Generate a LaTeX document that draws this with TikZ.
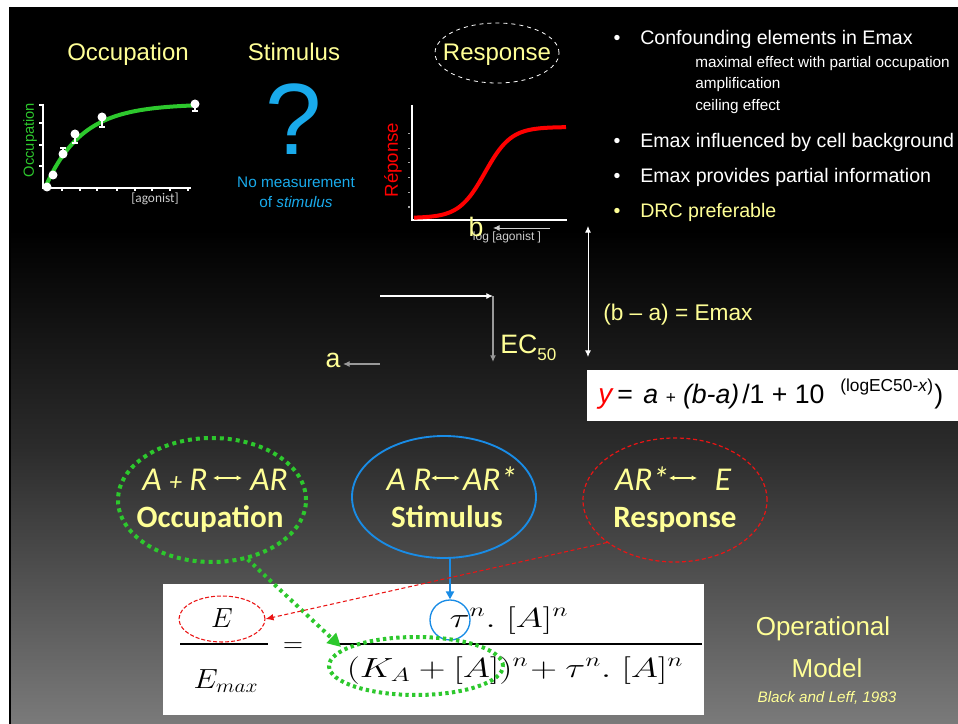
\documentclass[tikz,border=0pt]{standalone}
\usepackage{fontspec}
\setmainfont{Liberation Sans}
\newfontfamily\carlito{Carlito}
\usepackage{graphicx}
\usetikzlibrary{shapes.geometric,arrows.meta}
\definecolor{ylw}{RGB}{255,255,150}
\definecolor{grn}{RGB}{45,200,45}
\definecolor{blu}{RGB}{25,140,230}
\definecolor{cyn}{RGB}{25,170,235}
\definecolor{rd}{RGB}{235,20,20}
\definecolor{bgmid}{RGB}{44,44,44}
\definecolor{bgbot}{RGB}{122,122,122}
\definecolor{lgray}{RGB}{205,205,205}
\newcommand\fsz[1]{\fontsize{#1}{#1}\selectfont}
\tikzset{
  lbl/.style={inner sep=0pt, anchor=base},
  lblw/.style={inner sep=0pt, anchor=base west},
  ytxt/.style={text=ylw},
  wtxt/.style={text=white},
  tip/.style={-{Latex[length=5pt,width=4.5pt]}},
  dtip/.style={{Latex[length=5pt,width=4.5pt]}-{Latex[length=5pt,width=4.5pt]}},
  ring/.style={ellipse, inner sep=0pt},
  smallarr/.style={ylw, line width=0.8pt, {Latex[length=4pt,width=4pt]}-{Latex[length=4pt,width=4pt]}},
}
\begin{document}
\begin{tikzpicture}[x=0.75pt,y=-0.75pt]
\useasboundingbox (0,0) rectangle (958,724);
% ---------------- background
\fill[white] (0,0) rectangle (958,724);
\fill[black] (9,7) rectangle (958,231);
\shade[top color=black, bottom color=bgmid] (9,230) rectangle (958,451);
\shade[top color=bgmid, bottom color=bgbot] (9,450) rectangle (958,724);
\draw[line width=1.5pt, black] (10,7) -- (10,724);

% ---------------- headings
\node[lbl, ytxt] (hocc) at (128,61) {\fsz{18}Occupation};
\node[lbl, ytxt] (hsti) at (294,61) {\fsz{18}Stimulus};
\node[lbl, ytxt] (hres) at (497,61) {\fsz{18}Response};
\node[ring, draw=white, dashed, line width=0.6pt, minimum width=93pt, minimum height=45pt] (hresring) at (497,53) {};

% ---------------- occupation graph
\draw[white, line width=1.5pt] (43,104) -- (43,188) -- (191,188);
\foreach \y in {105,123,145,166} \draw[white, line width=1.5pt] (39,\y) -- (43,\y);
\foreach \x in {62,80,97,117,135,152,170,188} \draw[white, line width=1.5pt] (\x,188) -- (\x,191);
\draw[grn, line width=3pt] plot[domain=45:195, samples=60, smooth] (\x, {188-84*(1-exp(-0.0274*(\x-45)))});
\draw[white, line width=1.5pt] (63,154) -- (63,148) (60,148) -- (66,148);
\draw[white, line width=1.5pt] (75,134) -- (75,143) (72,143) -- (78,143);
\draw[white, line width=1.5pt] (102,117) -- (102,127) (99,127) -- (105,127);
\draw[white, line width=2pt] (195,104) -- (195,111) (192,111) -- (198,111);
\foreach \p in {(47,187),(53,175),(63,154),(75,134),(102,117),(195,104)} \fill[white] \p circle[radius=4.5];
\node[text=grn, rotate=90, inner sep=0pt] (occy) at (30,140) {\fsz{11}Occupation};
\node[lbl, text=lgray] (occx) at (155,203) {\carlito\fsz{10}[agonist]};

% ---------------- stimulus
\node[lbl, text=cyn] (qm) at (294,155) {\fsz{76}?};
\node[lbl, text=cyn] (nom1) at (296,188) {\fsz{11.5}No measurement};
\node[lbl, text=cyn] (nom2) at (296,208) {\fsz{11.5}of \textit{stimulus}};

% ---------------- response graph
\draw[white, line width=2.2pt] (412,105) -- (412,220) -- (567,220);
\foreach \y in {133,148,162,177,192,206} \fill[gray!70] (408,\y) rectangle (410,\y+1.5);
\draw[red, line width=3pt] plot[domain=414:566, samples=80, smooth] (\x, {218-91/(1+exp(-(\x-485)/13))});
\node[text=red, rotate=90, inner sep=0pt] (respy) at (393,160) {\fsz{14}Réponse};
\node[lbl, text=lgray] (respx) at (507,240) {\fsz{9}log [agonist ]};
\node[lbl, ytxt] (blab) at (476,236) {\fsz{20}b};
\coordinate (b0) at (550,228);
\coordinate (b1) at (493,228);
\draw[lgray, line width=0.7pt, tip] (b0) -- (b1);

% ---------------- bullets
\node[lbl, wtxt] (bu1) at (617,45) {\fsz{14.7}•};
\node[lblw, wtxt] (t1) at (640,45) {\fsz{14.7}Confounding elements in Emax};
\node[lblw, wtxt] (t1a) at (695,68) {\fsz{11.5}maximal effect with partial occupation};
\node[lblw, wtxt] (t1b) at (695,89) {\fsz{11.5}amplification};
\node[lblw, wtxt] (t1c) at (695,111) {\fsz{11.5}ceiling effect};
\node[lbl, wtxt] (bu2) at (617,147) {\fsz{14.7}•};
\node[lblw, wtxt] (t2) at (640,147) {\fsz{14.7}Emax influenced by cell background};
\node[lbl, wtxt] (bu3) at (617,183) {\fsz{14.7}•};
\node[lblw, wtxt] (t3) at (640,183) {\fsz{14.7}Emax provides partial information};
\node[lbl, ytxt] (bu4) at (617,218) {\fsz{14.7}•};
\node[lblw, ytxt] (t4) at (640,218) {\fsz{14.7}DRC preferable};

% ---------------- EC50 arrows
\coordinate (h0) at (380,296);
\coordinate (h1) at (493,296);
\coordinate (v1) at (493,362);
\draw[white, line width=0.8pt, tip] (h0) -- (h1);
\draw[gray!80, line width=1pt, tip] (h1) -- (v1);
\node[lblw, ytxt] (ec) at (500,353) {\fsz{20}EC\raisebox{-5.3pt}{\fsz{12.8}50}};
\node[lbl, ytxt] (alab) at (333,367) {\fsz{20}a};
\coordinate (a0) at (380,364);
\coordinate (a1) at (343,364);
\draw[gray!80, line width=0.8pt, tip] (a0) -- (a1);
\coordinate (d0) at (588,226);
\coordinate (d1) at (588,357);
\draw[white, line width=0.7pt, dtip] (d0) -- (d1);
\node[lblw, ytxt] (bma) at (603,320) {\fsz{17}(b – a) = Emax};

% ---------------- formula box (top)
\fill[white] (587,370) rectangle (958,421);
\node[lblw, text=red] (fy) at (598,403) {\fsz{21}\itshape y};
\node[lblw] (feq1) at (617,403) {\fsz{20}=};
\node[lblw] (fab) at (643,403) {\fsz{20}\itshape a {\fsz{13}+} (b-a)};
\node[lblw] (fdiv) at (742,403) {\fsz{20}/1 + 10};
\node[lblw] (fsup) at (840,391) {\fsz{13}(logEC50-\textit{x})};
\node[lblw] (fcl) at (934,403) {\fsz{20})};

% ---------------- three ellipses
\node[ring, draw=grn, line width=3pt, dash pattern=on 3pt off 3pt, minimum width=141pt, minimum height=93pt] (occ) at (212,500) {};
\node[ring, draw=blu, line width=1.4pt, minimum width=138pt, minimum height=91.5pt] (sti) at (444,497) {};
\node[ring, draw=rd, line width=0.9pt, dash pattern=on 3pt off 2pt, minimum width=138pt, minimum height=93pt] (res) at (675,500) {};

\node[lbl, ytxt] (occr1) at (175,490) {\carlito\itshape\fsz{25}A {\fsz{19}+} R};
\node[lbl, ytxt] (occr2) at (269,490) {\carlito\itshape\fsz{25}AR};
\coordinate (oa0) at (213,478); \coordinate (oa1) at (242,478);
\draw[smallarr] (oa0) -- (oa1);
\node[lbl, ytxt] (occn) at (210,527) {\carlito\bfseries\fsz{23.3}Occupation};

\node[lbl, ytxt] (stir1) at (409,490) {\carlito\itshape\fsz{25}A R};
\node[lbl, ytxt] (stir2) at (490,490) {\carlito\itshape\fsz{25}AR*};
\coordinate (sa0) at (431,478); \coordinate (sa1) at (460,478);
\draw[smallarr] (sa0) -- (sa1);
\node[lbl, ytxt] (stin) at (447,527) {\carlito\bfseries\fsz{23.3}Stimulus};

\node[lbl, ytxt] (resr1) at (642,490) {\carlito\itshape\fsz{25}AR*};
\node[lbl, ytxt] (resr2) at (723,490) {\carlito\itshape\fsz{25}E};
\coordinate (ra0) at (669,478); \coordinate (ra1) at (697,478);
\draw[smallarr] (ra0) -- (ra1);
\node[lbl, ytxt] (resn) at (675,527) {\carlito\bfseries\fsz{23.3}Response};

% ---------------- operational model formula
\fill[white] (163,584) rectangle (704,715);
\node[lbl] (fE) at (222,627) {\fsz{22}$E$};
\draw[black, line width=1.5pt] (180,644) -- (268,644);
\node[lbl] (fEmax) at (226,688) {\fsz{22}\scalebox{1.12}[1]{$E_{max}$}};
\node[lbl] (feq) at (293,652) {\fsz{22}$=$};
\draw[black, line width=1.5pt] (334,644) -- (702,644);
\node[lbl] (fnum) at (509,627) {\fsz{22}\scalebox{1.35}[1]{$\tau^n.\;[A]^n$}};
\node[lbl] (fden) at (515,677) {\fsz{22}\scalebox{1.34}[1]{$(K_A+[A])^n\!+\tau^n.\;[A]^n$}};

\node[ring, draw=rd, line width=0.8pt, dash pattern=on 3pt off 1.5pt, minimum width=64.5pt, minimum height=34.5pt] (eell) at (222,619) {};
\node[circle, draw=blu, line width=1pt, inner sep=0pt, minimum size=30pt] (tauc) at (450,620) {};
\node[ring, draw=grn, line width=3pt, dash pattern=on 2.5pt off 2.5pt, minimum width=130.5pt, minimum height=43.5pt] (kell) at (416,666) {};

\coordinate (garr) at (341,647);
\draw[grn, line width=3pt, dash pattern=on 2.5pt off 3pt, -{Triangle[length=10pt,width=10pt]}] (occ.301.8) -- (garr);
\draw[blu, line width=1.8pt, -{Triangle[length=6pt,width=6pt]}] (tauc.north |- sti.south) -- (tauc.north);
\draw[rd, line width=0.8pt, dash pattern=on 3pt off 2pt, -{Latex[length=6pt,width=5pt]}] (res.212.3) -- (eell.east);

% ---------------- operational model caption
\node[lbl, ytxt] (op1) at (823,635) {\fsz{19.5}Operational};
\node[lbl, ytxt] (op2) at (827,677) {\fsz{19.5}Model};
\node[lbl, ytxt] (op3) at (827,702) {\fsz{11.4}\itshape Black and Leff, 1983};
\end{tikzpicture}
\end{document}
